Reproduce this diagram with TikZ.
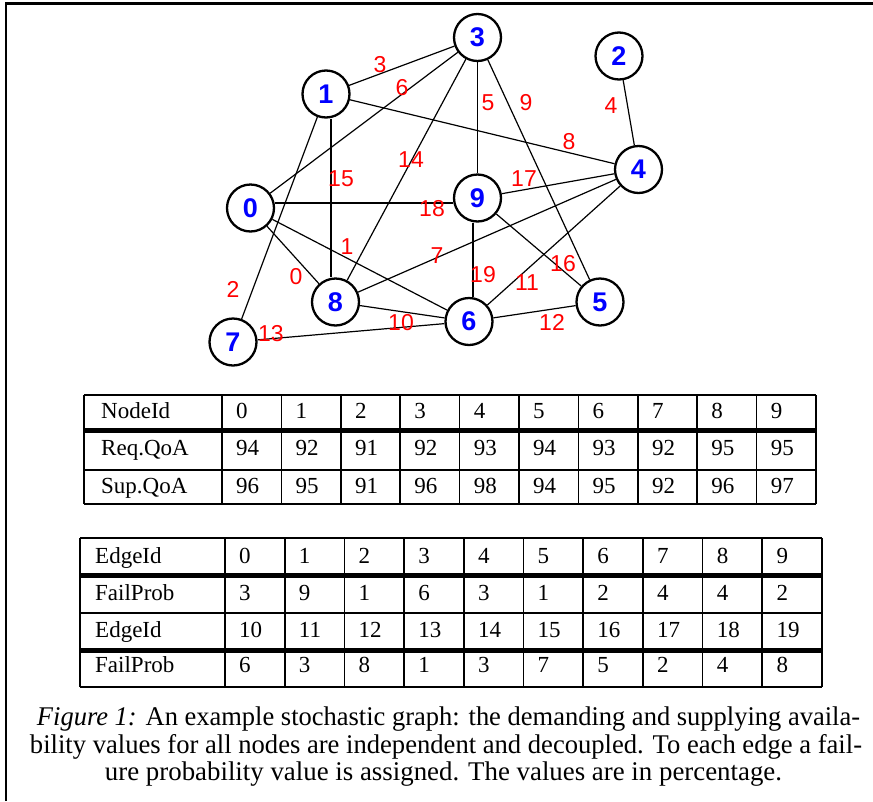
\documentclass[tikz,border=0pt]{standalone}
\usepackage{fontspec}
\usepackage{graphicx}
\setmainfont{Liberation Serif}
\newfontfamily\arialf{Liberation Sans}
\begin{document}
\begin{tikzpicture}[x=1pt,y=-1pt,
  gn/.style={circle,draw,line width=2.3pt,minimum size=47pt,inner sep=0pt,
    font=\arialf\bfseries\fontsize{27}{27}\selectfont,text={rgb,255:red,0;green,0;blue,255}},
  el/.style={text={rgb,255:red,255;green,0;blue,0},font=\arialf\fontsize{23}{23}\selectfont,inner sep=0pt},
  ethin/.style={line width=1.2pt},
  ethick/.style={line width=2.4pt},
  tt/.style={font=\fontsize{23}{27}\selectfont,inner sep=0pt,anchor=base west},
  tline/.style={line width=1.7pt},
  tthick/.style={line width=5pt},
  captext/.style={font=\fontsize{27}{27}\selectfont,inner sep=0pt,anchor=base}]
\useasboundingbox (0,0) rectangle (873,801);
% frame
\draw[line width=2.4pt] (6.2,801) -- (6.2,3.5) -- (873,3.5);
% graph nodes
\node[gn] (n0) at (250.5,208) {0};
\node[gn] (n1) at (326,94) {1};
\node[gn] (n2) at (619,56) {2};
\node[gn] (n3) at (477.5,37.5) {3};
\node[gn] (n4) at (638.5,169.5) {4};
\node[gn] (n5) at (600,302) {5};
\node[gn] (n6) at (469,321.5) {6};
\node[gn] (n7) at (233,342) {7};
\node[gn] (n8) at (335.5,302) {8};
\node[gn] (n9) at (477.5,198) {9};
% edges
\draw[ethin] (n0) -- (n8);
\draw[ethin] (n0) -- (n6);
\draw[ethin] (n1) -- (n7);
\draw[ethin] (n1) -- (n3);
\draw[ethin] (n2) -- (n4);
\draw[ethin] (n3) -- (n9);
\draw[ethin] (n3) -- (n0);
\draw[ethin] (n8) -- (n4);
\draw[ethin] (n1) -- (n4);
\draw[ethin] (n3) -- (n5);
\draw[ethin] (n8) -- (n6);
\draw[ethin] (n6) -- (n4);
\draw[ethin] (n6) -- (n5);
\draw[ethin] (n7) -- (n6);
\draw[ethin] (n3) -- (n8);
\draw[ethick] ([xshift=5pt]n1.south) -- ([xshift=-4.5pt]n8.north);
\draw[ethin] (n9) -- (n5);
\draw[ethin] (n9) -- (n4);
\draw[ethick] ([yshift=5pt]n0.east) -- ([yshift=-5pt]n9.west);
\draw[ethick] ([xshift=-4.5pt]n9.south) -- ([xshift=4pt]n6.north);
% edge labels
\node[el] (e0) at (296,277) {0};
\node[el] (e1) at (347,247) {1};
\node[el] (e2) at (233,289) {2};
\node[el] (e3) at (380,65) {3};
\node[el] (e4) at (611,106) {4};
\node[el] (e5) at (488,103) {5};
\node[el] (e6) at (402,88) {6};
\node[el] (e7) at (437,256) {7};
\node[el] (e8) at (569,142) {8};
\node[el] (e9) at (526,103) {9};
\node[el] (e10) at (401,323) {10};
\node[el] (e11) at (527,283) {11};
\node[el] (e12) at (552,322) {12};
\node[el] (e13) at (271,334) {13};
\node[el] (e14) at (411,160) {14};
\node[el] (e15) at (341,179) {15};
\node[el] (e16) at (563,264) {16};
\node[el] (e17) at (524,179) {17};
\node[el] (e18) at (432,209) {18};
\node[el] (e19) at (483,275) {19};
% table 1 lines
\foreach \yy in {395,470,504} \draw[tline] (84,\yy) -- (816,\yy);
\draw[tthick] (84,430.5) -- (816,430.5);
\draw[tline] (84,395) -- (84,504);
\foreach \k in {0,...,10} \draw[tline] ({222+59.4*\k},395) -- ({222+59.4*\k},504);
% table 1 text
\foreach \r/\b/\hd/\vals in {a/418/NodeId/{0,1,2,3,4,5,6,7,8,9},
                               b/455/Req.QoA/{94,92,91,92,93,94,93,92,95,95},
                               c/493/Sup.QoA/{96,95,91,96,98,94,95,92,96,97}} {
  \node[tt] (ta\r h) at (101,\b) {\hd};
  \foreach \v [count=\i from 0] in \vals
    \node[tt] (ta\r\i) at ({222+59.4*\i+14},\b) {\v};
}
% table 2 lines
\foreach \yy in {538,613,687} \draw[tline] (80,\yy) -- (822,\yy);
\draw[tthick] (80,575.5) -- (822,575.5);
\draw[tthick] (80,650) -- (822,650);
\draw[tline] (80,538) -- (80,687);
\foreach \k in {0,...,10} \draw[tline] ({225+59.7*\k},538) -- ({225+59.7*\k},687);
% table 2 text
\foreach \r/\b/\hd/\vals in {a/563/EdgeId/{0,1,2,3,4,5,6,7,8,9},
                               b/600/FailProb/{3,9,1,6,3,1,2,4,4,2},
                               c/637/EdgeId/{10,11,12,13,14,15,16,17,18,19},
                               d/672/FailProb/{6,3,8,1,3,7,5,2,4,8}} {
  \node[tt] (tb\r h) at (95,\b) {\hd};
  \foreach \v [count=\i from 0] in \vals
    \node[tt] (tb\r\i) at ({225+59.7*\i+14},\b) {\v};
}
% caption
\node[captext] (c1) at (448.5,725) {\resizebox{823pt}{\height}{\textit{Figure 1:} An example stochastic graph: the demanding and supplying availa-}};
\node[captext] (c2) at (446,753) {\resizebox{832pt}{\height}{bility values for all nodes are independent and decoupled. To each edge a fail-}};
\node[captext] (c3) at (443.5,780) {\resizebox{677pt}{\height}{ure probability value is assigned. The values are in percentage.}};
\end{tikzpicture}
\end{document}
